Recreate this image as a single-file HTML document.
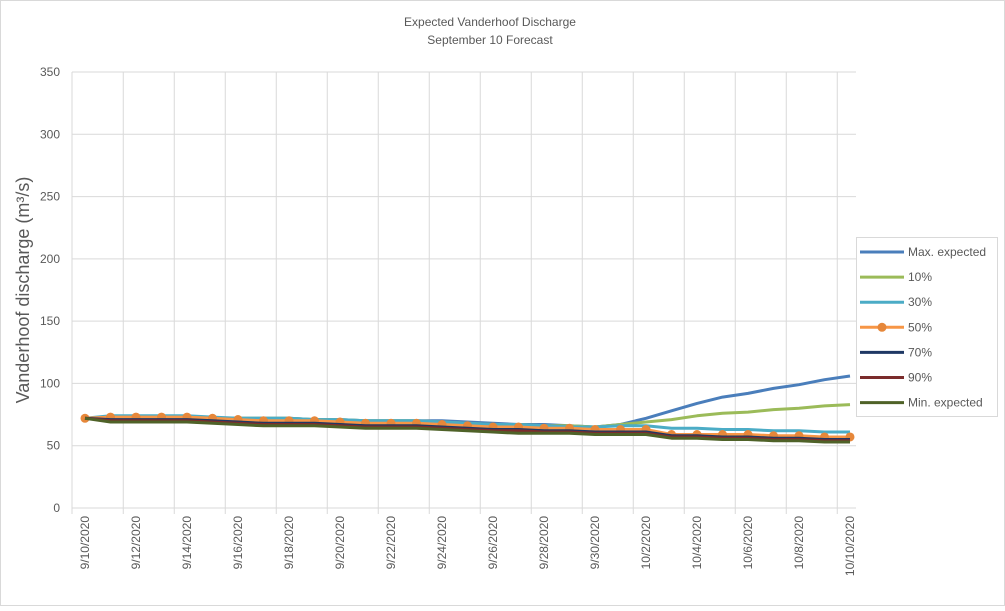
<!DOCTYPE html>
<html><head><meta charset="utf-8"><style>
body{margin:0;background:#fff;font-family:"Liberation Sans",sans-serif;}
</style></head><body>
<svg id="chart" width="1005" height="606" xmlns="http://www.w3.org/2000/svg" font-family="Liberation Sans, sans-serif">
<rect x="0.5" y="0.5" width="1004" height="605" fill="#fff" stroke="#d9d9d9"/>
<text x="490" y="26" text-anchor="middle" font-size="12" fill="#595959">Expected Vanderhoof Discharge</text>
<text x="490" y="44" text-anchor="middle" font-size="12" fill="#595959">September 10 Forecast</text>
<text transform="translate(29,290) rotate(-90)" text-anchor="middle" font-size="18" fill="#595959">Vanderhoof discharge (m³/s)</text>
<g id="grid"></g><g id="series"></g><g id="legend"></g>
</svg>
<script>
const dates=["9/10/2020","9/11/2020","9/12/2020","9/13/2020","9/14/2020","9/15/2020","9/16/2020","9/17/2020","9/18/2020","9/19/2020","9/20/2020","9/21/2020","9/22/2020","9/23/2020","9/24/2020","9/25/2020","9/26/2020","9/27/2020","9/28/2020","9/29/2020","9/30/2020","10/1/2020","10/2/2020","10/3/2020","10/4/2020","10/5/2020","10/6/2020","10/7/2020","10/8/2020","10/9/2020","10/10/2020"];
const yTicks=[0,50,100,150,200,250,300,350];
const maxExpected=[72,73,73,73,73,72,72,72,72,71,71,70,70,70,70,69,68,67,67,66,65,67,72,78,84,89,92,96,99,103,106];
const p10=[72,73,73,73,73,72,72,72,72,71,71,70,70,70,69,68,67,67,66,66,65,67,69,71,74,76,77,79,80,82,83];
const p30=[72,74,74,74,74,73,72,72,72,71,71,70,70,70,69,68,67,67,66,65,65,66,66,64,64,63,63,62,62,61,61];
const p50=[72,73,73,73,73,72,71,70,70,70,69,68,68,68,67,66,65,65,64,64,63,63,63,59,59,59,59,58,58,57,57];
const p70=[72,71,71,71,71,70,69,68,68,68,67,66,66,66,65,64,63,63,62,62,61,61,61,58,58,57,57,56,56,55,55];
const p90=[72,70,70,70,70,69,68,67,67,67,66,65,65,65,64,63,62,62,61,61,60,60,60,57,57,56,56,55,55,54,54];
const minExpected=[72,69,69,69,69,68,67,66,66,66,65,64,64,64,63,62,61,60,60,60,59,59,59,56,56,55,55,54,54,53,53];
const NS="http://www.w3.org/2000/svg";
const L=72,R=856,T=72,B=508,yMax=350;
const step=25.5;
const xs=i=>85+step*i;
const ys=v=>B-(v/yMax)*(B-T);
function mk(tag,attrs,parent){const e=document.createElementNS(NS,tag);for(const k in attrs)e.setAttribute(k,attrs[k]);parent.appendChild(e);return e;}
const grid=document.getElementById('grid');
yTicks.forEach(t=>{
  const ln=mk('line',{x1:L,x2:R,y1:ys(t),y2:ys(t),stroke:'#d9d9d9','stroke-width':1},grid);
  
  
  const tx=mk('text',{x:L-12,y:ys(t)+4,'text-anchor':'end','font-size':12,fill:'#595959'},grid);
  tx.textContent=t;
  
  
});
const ax=mk('line',{x1:L,x2:L,y1:T,y2:B+6,stroke:'#d9d9d9','stroke-width':1},grid);


for(let i=2;i<dates.length;i+=2){
  const x=xs(i-0.5);
  const ln=mk('line',{x1:x,x2:x,y1:T,y2:B+6,stroke:'#d9d9d9','stroke-width':1},grid);
  
  
}
dates.forEach((d,i)=>{
  if(i%2)return;
  const tx=mk('text',{transform:`translate(${xs(i)+4},516) rotate(-90)`,'text-anchor':'end','font-size':12,fill:'#595959'},grid);
  tx.textContent=d;
  
  
});
const series=[
 {name:'Max. expected',data:maxExpected,color:'#4a7ebb',key:'max-expected'},
 {name:'10%',data:p10,color:'#9bbb59',key:'p10'},
 {name:'30%',data:p30,color:'#4bacc6',key:'p30'},
 {name:'50%',data:p50,color:'#f79646',key:'p50',marker:true},
 {name:'70%',data:p70,color:'#1f3864',key:'p70'},
 {name:'90%',data:p90,color:'#7b2c2c',key:'p90'},
 {name:'Min. expected',data:minExpected,color:'#4f6228',key:'min-expected'}
];
const sg=document.getElementById('series');
series.forEach(s=>{
  const d=s.data.map((v,i)=>(i?'L':'M')+xs(i).toFixed(1)+','+ys(v).toFixed(1)).join(' ');
  const p=mk('path',{d:d,fill:'none',stroke:s.color,'stroke-width':3,'stroke-linejoin':'round'},sg);
  
  
  if(s.marker){s.data.forEach((v,i)=>{
    const c=mk('circle',{cx:xs(i),cy:ys(v),r:4.5,fill:'#e6873a'},sg);
    
    
  });}
});
const lg=document.getElementById('legend');
const lb=mk('rect',{x:856.5,y:237.5,width:141,height:179,fill:'#fff',stroke:'#d9d9d9'},lg);


series.forEach((s,i)=>{
  const y=252+i*25.1;
  const g=mk('g',{},lg);
  
  
  mk('line',{x1:860,x2:904,y1:y,y2:y,stroke:s.color,'stroke-width':3},g);
  if(s.marker)mk('circle',{cx:882,cy:y,r:4.5,fill:'#e6873a'},g);
  const t=mk('text',{x:908,y:y+4,'font-size':12,fill:'#595959'},g);
  t.textContent=s.name;
});
</script>
</body></html>
